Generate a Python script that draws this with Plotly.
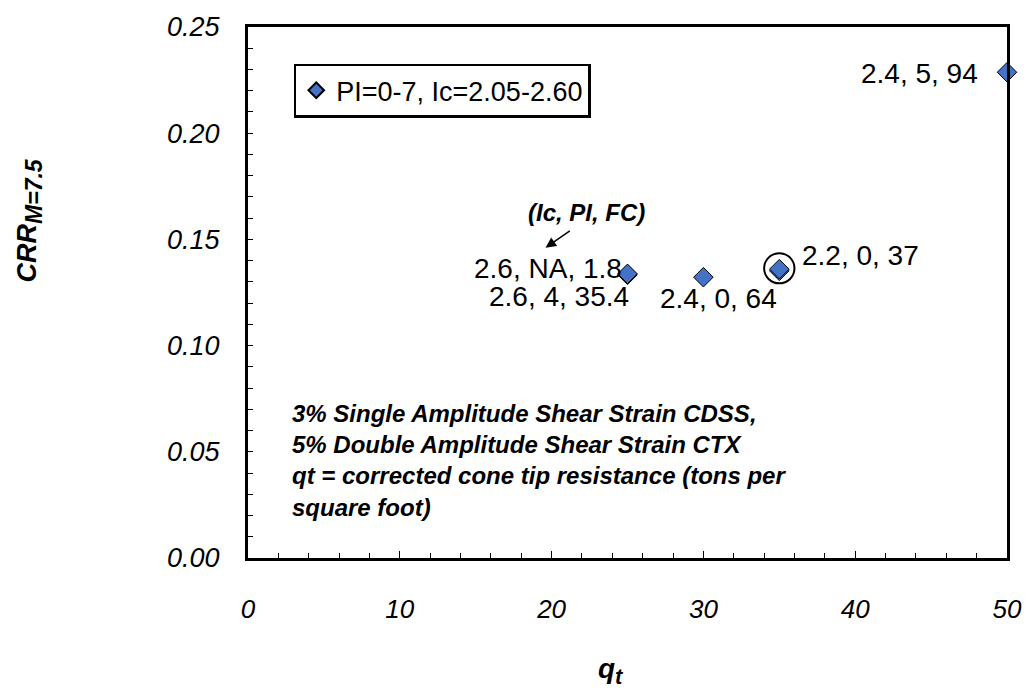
import plotly.graph_objects as go

# CPT corrected tip resistance vs cyclic resistance ratio
qt = [25, 25, 30, 35, 35, 50]
crr = [0.1333, 0.1338, 0.1322, 0.1352, 0.1360, 0.2287]

# (Ic, PI, FC) point labels with their placement in data units
label_text = ["2.6, NA, 1.8", "2.6, 4, 35.4", "2.4, 0, 64", "2.2, 0, 37", "2.4, 5, 94"]
label_x = [24.75, 25.25, 31.0, 36.35, 48.2]
label_y = [0.1362, 0.1232, 0.1222, 0.1422, 0.2280]
label_anchor = ["right", "right", "center", "left", "right"]

series_name = "PI=0-7, Ic=2.05-2.60"
x_ticks = [0, 10, 20, 30, 40, 50]
y_ticks = [0.00, 0.05, 0.10, 0.15, 0.20, 0.25]

notes = ["3% Single Amplitude Shear Strain CDSS,",
         "5% Double Amplitude Shear Strain CTX",
         "qt = corrected cone tip resistance (tons per",
         "square foot)"]

FONT = "Liberation Sans, Arial, sans-serif"

fig = go.Figure()
fig.add_trace(go.Scatter(
    x=qt, y=crr, mode="markers", name=series_name,
    marker=dict(symbol="diamond", size=15, color="#4472C4",
                line=dict(color="black", width=1)),
    cliponaxis=False,
))

# circled test point at qt = 35
fig.add_shape(type="circle", xref="x", yref="y",
              x0=35 - 1.0, x1=35 + 1.0, y0=0.1364 - 0.0071, y1=0.1364 + 0.0071,
              line=dict(color="black", width=2))

annotations = []
for lab, lx, ly, anc in zip(label_text, label_x, label_y, label_anchor):
    annotations.append(dict(x=lx, y=ly, xref="x", yref="y", text=lab,
                            showarrow=False, xanchor=anc, yanchor="middle",
                            font=dict(family=FONT, size=28, color="black")))

# key for the label format
annotations.append(dict(x=19.6, y=0.1461, ax=21.3, ay=0.1545, xref="x", yref="y",
                        axref="x", ayref="y", text="", showarrow=True,
                        arrowhead=2, arrowsize=1.4, arrowwidth=1.5, arrowcolor="black"))
annotations.append(dict(x=22.3, y=0.1625, xref="x", yref="y",
                        text="<b><i>(Ic, PI, FC)</i></b>", showarrow=False,
                        font=dict(family=FONT, size=24, color="black")))

# test notes
annotations.append(dict(x=2.75, y=0.0457, xref="x", yref="y", xanchor="left", yanchor="middle",
                        align="left", showarrow=False,
                        text="<br>".join(f"<b><i>{n}</i></b>" for n in notes),
                        font=dict(family=FONT, size=24, color="black")))

# axis titles
annotations.append(dict(x=-0.2883, y=0.636, xref="paper", yref="paper",
                        xanchor="center", yanchor="middle",
                        text="<b><i>CRR<sub><span style='font-size:23px'>M=7.5</span></sub></i></b>",
                        textangle=-90, showarrow=False,
                        font=dict(family=FONT, size=27, color="black")))
annotations.append(dict(x=0.478, y=-0.213, xref="paper", yref="paper",
                        xanchor="center", yanchor="middle",
                        text="<b><i>q<sub><span style='font-size:22px'>t</span></sub></i></b>",
                        showarrow=False, font=dict(family=FONT, size=28, color="black")))

fig.update_layout(
    width=1034, height=691,
    margin=dict(l=248, r=23, t=20, b=133),
    paper_bgcolor="white", plot_bgcolor="white",
    showlegend=True,
    legend=dict(x=0.0603, y=0.931, xanchor="left", yanchor="top",
                bordercolor="black", borderwidth=2.5, bgcolor="white",
                font=dict(family=FONT, size=27, color="black"),
                itemsizing="constant", tracegroupgap=0),
    annotations=annotations,
    xaxis=dict(range=[0, 50], tickvals=x_ticks, ticktext=[f"<i>{v}</i>" for v in x_ticks],
               showgrid=False, zeroline=False, showline=True, mirror=True,
               linecolor="black", linewidth=3, ticks="inside", ticklen=7,
               tickcolor="black", tickwidth=1,
               minor=dict(dtick=2, ticks="inside", ticklen=5, tickcolor="black", showgrid=False),
               tickfont=dict(family="Liberation Sans Narrow, Arial Narrow, Liberation Sans, Arial",
                             size=26, color="black"),
               ticklabelstandoff=26),
    yaxis=dict(range=[0, 0.25], tickvals=y_ticks,
               ticktext=[f"<i>{v:.2f}</i>" for v in y_ticks],
               showgrid=False, zeroline=False, showline=True, mirror=True,
               linecolor="black", linewidth=3, ticks="inside", ticklen=5,
               tickcolor="black", tickwidth=1,
               minor=dict(dtick=0.01, ticks="inside", ticklen=5, tickcolor="black", showgrid=False),
               tickfont=dict(family=FONT, size=27, color="black"),
               ticklabelstandoff=20),
)

fig.write_html("out.html")
